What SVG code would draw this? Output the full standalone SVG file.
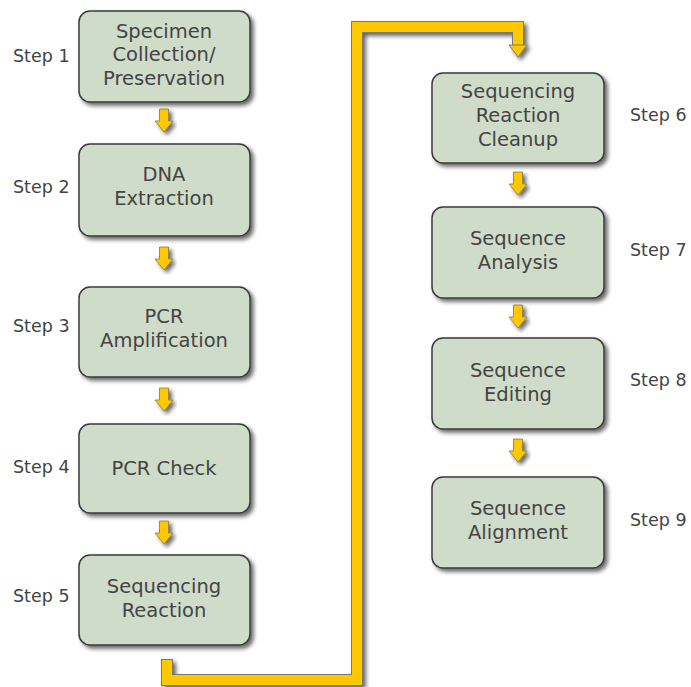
<svg xmlns="http://www.w3.org/2000/svg" width="691" height="687" viewBox="0 0 691 687">
<defs>
<filter id="sh" x="-10%" y="-10%" width="130%" height="130%">
<feGaussianBlur in="SourceAlpha" stdDeviation="2"/>
<feOffset dx="3" dy="3" result="b"/>
<feComponentTransfer><feFuncA type="linear" slope="0.6"/></feComponentTransfer>
<feMerge><feMergeNode/><feMergeNode in="SourceGraphic"/></feMerge>
</filter>
<path id="arr" d="M-4.5,0 H4.5 V12 H9 L0,23 L-9,12 H-4.5 Z"/>
</defs>
<style>
.box{fill:#cfdcca;stroke:#3a3a3a;stroke-width:1.5;filter:url(#sh)}
.t{font-family:"DejaVu Sans",Verdana,sans-serif;font-size:19.5px;fill:#444;text-anchor:middle}
.s{font-family:"DejaVu Sans",Verdana,sans-serif;font-size:17.5px;fill:#444}
.a{fill:#ffc800;stroke:#8a7a40;stroke-width:0.8;filter:url(#sh)}
</style>
<rect width="691" height="687" fill="#fff"/>
<g id="connectors">
<use href="#arr" class="a" x="164" y="109"/>
<use href="#arr" class="a" x="164" y="247"/>
<use href="#arr" class="a" x="164" y="388"/>
<use href="#arr" class="a" x="164" y="521"/>
<use href="#arr" class="a" x="518" y="172"/>
<use href="#arr" class="a" x="518" y="305"/>
<use href="#arr" class="a" x="518" y="439"/>
<g filter="url(#sh)">
<path d="M167,659 V680 H357 V27 H518 V45" fill="none" stroke="#7a7a6a" stroke-width="12"/>
<path d="M167,660 V680 H357 V27 H518 V46" fill="none" stroke="#ffc800" stroke-width="10"/>
<path d="M509,45 H527 L518,57 Z" fill="#ffc800" stroke="#7a7a6a" stroke-width="1"/>
</g>
</g>
<g id="node1"><rect class="box" x="79" y="11" width="171" height="91" rx="11"/>
<text class="t" x="164" y="38">Specimen</text><text class="t" x="164" y="61">Collection/</text><text class="t" x="164" y="85">Preservation</text></g>
<g id="node2"><rect class="box" x="79" y="144" width="171" height="92" rx="11"/>
<text class="t" x="164" y="181">DNA</text><text class="t" x="164" y="205">Extraction</text></g>
<g id="node3"><rect class="box" x="79" y="287" width="171" height="90" rx="11"/>
<text class="t" x="164" y="323">PCR</text><text class="t" x="164" y="347">Amplification</text></g>
<g id="node4"><rect class="box" x="79" y="424" width="171" height="89" rx="11"/>
<text class="t" x="164" y="475">PCR Check</text></g>
<g id="node5"><rect class="box" x="79" y="555" width="171" height="90" rx="11"/>
<text class="t" x="164" y="593">Sequencing</text><text class="t" x="164" y="617">Reaction</text></g>
<g id="node6"><rect class="box" x="432" y="73" width="172" height="90" rx="11"/>
<text class="t" x="518" y="98">Sequencing</text><text class="t" x="518" y="122">Reaction</text><text class="t" x="518" y="146">Cleanup</text></g>
<g id="node7"><rect class="box" x="432" y="207" width="172" height="91" rx="11"/>
<text class="t" x="518" y="245">Sequence</text><text class="t" x="518" y="269">Analysis</text></g>
<g id="node8"><rect class="box" x="432" y="338" width="172" height="91" rx="11"/>
<text class="t" x="518" y="377">Sequence</text><text class="t" x="518" y="401">Editing</text></g>
<g id="node9"><rect class="box" x="432" y="477" width="172" height="91" rx="11"/>
<text class="t" x="518" y="515">Sequence</text><text class="t" x="518" y="539">Alignment</text></g>
<g id="labels">
<text class="s" x="13" y="62">Step 1</text>
<text class="s" x="13" y="193">Step 2</text>
<text class="s" x="13" y="332">Step 3</text>
<text class="s" x="13" y="473">Step 4</text>
<text class="s" x="13" y="602">Step 5</text>
<text class="s" x="630" y="121">Step 6</text>
<text class="s" x="630" y="256">Step 7</text>
<text class="s" x="630" y="386">Step 8</text>
<text class="s" x="630" y="526">Step 9</text>
</g>
</svg>
